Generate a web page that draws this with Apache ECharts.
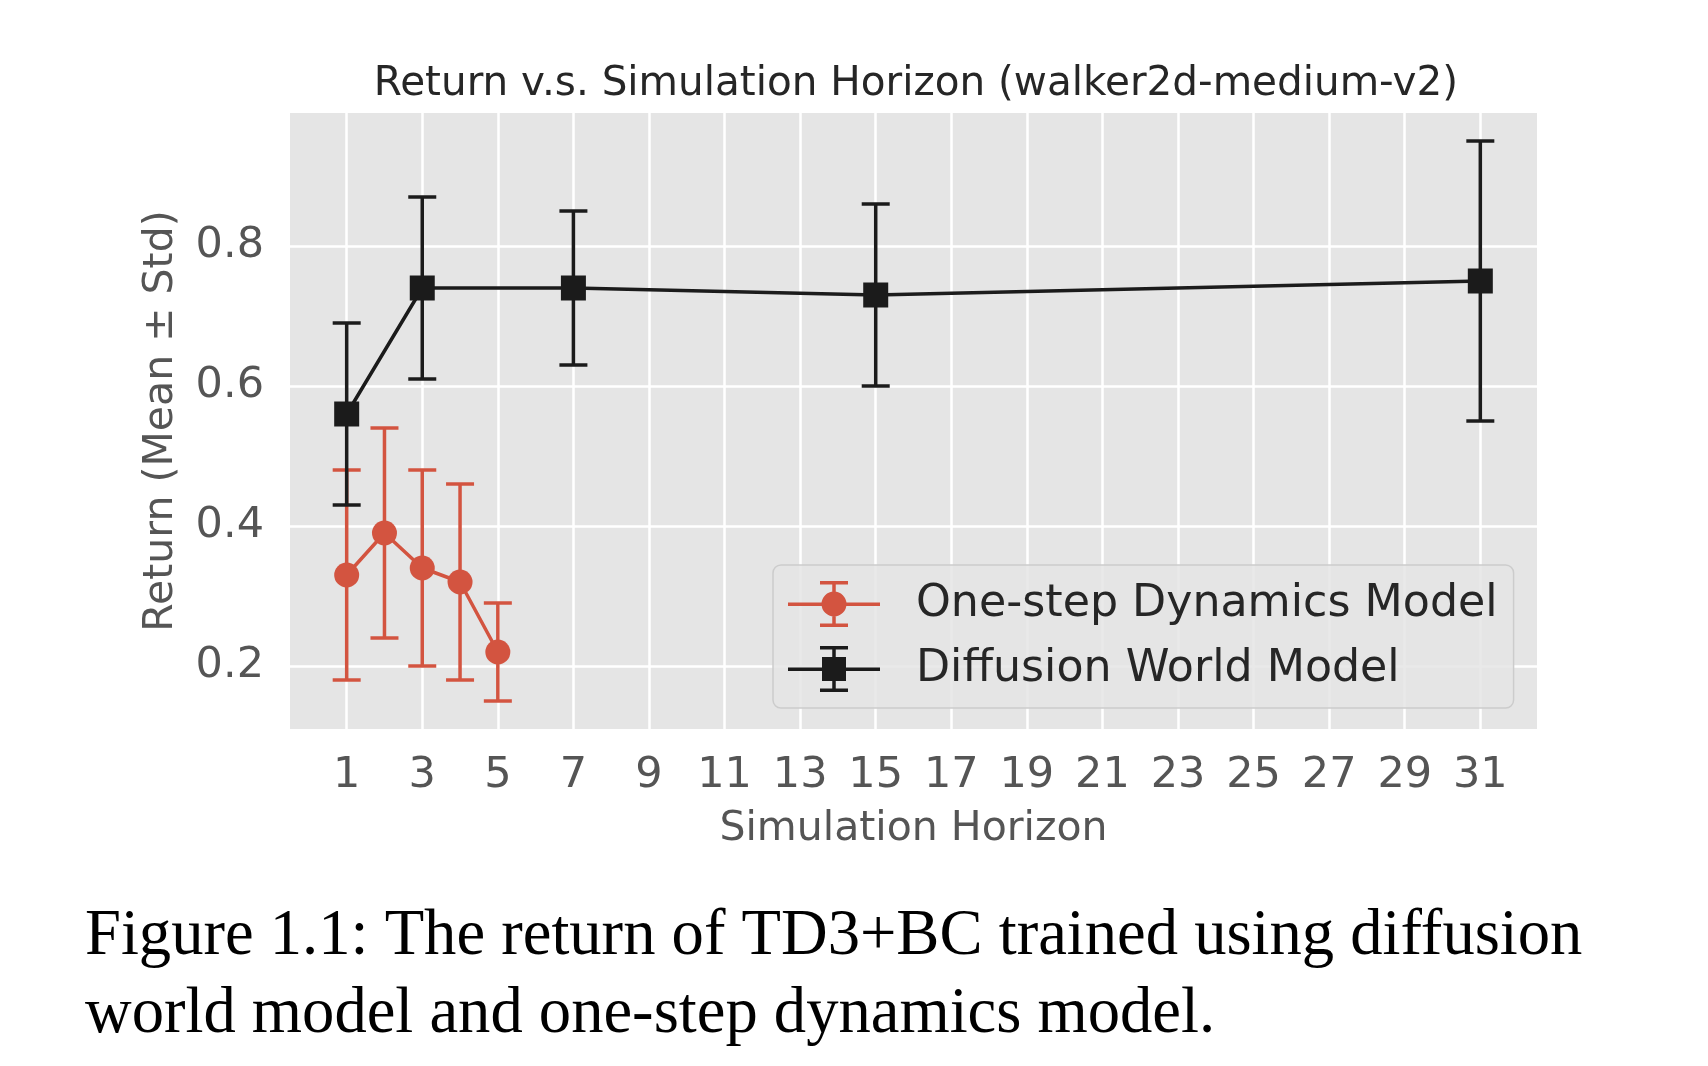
<!DOCTYPE html>
<html>
<head>
<meta charset="utf-8">
<script src="https://cdn.jsdelivr.net/npm/echarts@6/dist/echarts.min.js"></script>
<style>
  html, body { margin: 0; padding: 0; background: #ffffff; }
  #chart { width: 1708px; height: 1066px; }
</style>
</head>
<body>
<div id="chart"></div>
<script>
// ====== data ======
const oneStepHorizon = [1, 2, 3, 4, 5];
const oneStepMean = [0.33, 0.39, 0.34, 0.32, 0.22];
const oneStepStd = [0.15, 0.15, 0.14, 0.14, 0.07];

const diffusionHorizon = [1, 3, 7, 15, 31];
const diffusionMean = [0.56, 0.74, 0.74, 0.73, 0.75];
const diffusionStd = [0.13, 0.13, 0.11, 0.13, 0.20];

const xTickValues = [1, 3, 5, 7, 9, 11, 13, 15, 17, 19, 21, 23, 25, 27, 29, 31];
const yTickValues = [0.2, 0.4, 0.6, 0.8];

const seriesNames = ['One-step Dynamics Model', 'Diffusion World Model'];
const captionLines = [
    'Figure 1.1: The return of TD3+BC trained using diffusion',
    'world model and one-step dynamics model.'
];

// ====== style ======
const RED = '#D35440';
const BLACK = '#1b1b1b';
const SANS = 'DejaVu Sans';

// legend icons: line + error bar + marker, drawn in a 92x46 box
const barPart = 'M0 21.5 h92 v3.5 h-92 Z M44.25 0 h3.5 v46 h-3.5 Z M32 0 h28 v3.5 h-28 Z M32 42.5 h28 v3.5 h-28 Z ';
const iconCircle = 'path://' + barPart + 'M58.5 23 A12.5 12.5 0 1 1 33.5 23 A12.5 12.5 0 1 1 58.5 23 Z';
const iconSquare = 'path://' + barPart + 'M34 11 h24 v24 h-24 Z';

const toPoints = (xs, ys) => xs.map((x, i) => [x, ys[i]]);
const toBars = (xs, ys, sd) => xs.map((x, i) => [x, ys[i] - sd[i], ys[i] + sd[i]]);

// error bar with caps, through the axis scales
const errorBar = (color) => (params, api) => {
    const x = api.value(0);
    const top = api.coord([x, api.value(2)]);
    const bot = api.coord([x, api.value(1)]);
    const half = 14;
    const st = { stroke: color, lineWidth: 3.5 };
    return {
        type: 'group',
        children: [
            { type: 'line', shape: { x1: top[0], y1: top[1], x2: bot[0], y2: bot[1] }, style: st },
            { type: 'line', shape: { x1: top[0] - half, y1: top[1], x2: top[0] + half, y2: top[1] }, style: st },
            { type: 'line', shape: { x1: bot[0] - half, y1: bot[1], x2: bot[0] + half, y2: bot[1] }, style: st }
        ]
    };
};

const chart = echarts.init(document.getElementById('chart'));

const option = {
    animation: false,
    backgroundColor: '#ffffff',
    textStyle: { fontFamily: SANS },
    title: {
        text: 'Return v.s. Simulation Horizon (walker2d-medium-v2)',
        left: 911, top: 59, textAlign: 'center',
        textStyle: { fontFamily: SANS, fontSize: 40.5, fontWeight: 'normal', color: '#262626' }
    },
    grid: {
        left: 290, top: 113, right: 171, bottom: 337,
        show: true, backgroundColor: '#E5E5E5', borderWidth: 0,
        containLabel: false, outerBoundsMode: 'none'
    },
    legend: {
        orient: 'vertical',
        left: 773, top: 565,
        padding: [16, 16, 16, 15],
        itemGap: 19,
        itemWidth: 92, itemHeight: 46,
        backgroundColor: 'rgba(229,229,229,0.85)',
        borderColor: '#cccccc', borderWidth: 1.5, borderRadius: 8,
        selectedMode: false,
        textStyle: { fontFamily: SANS, fontSize: 44.3, color: '#262626', padding: [0, 0, 0, 31], lineHeight: 46 },
        data: [
            { name: seriesNames[0], icon: iconCircle, itemStyle: { color: RED } },
            { name: seriesNames[1], icon: iconSquare, itemStyle: { color: BLACK } }
        ]
    },
    xAxis: {
        type: 'value', min: -0.5, max: 32.5,
        name: 'Simulation Horizon', nameLocation: 'middle', nameGap: 80,
        nameTextStyle: { fontFamily: SANS, fontSize: 41, color: '#555555' },
        axisLine: { show: false },
        axisTick: { show: false, customValues: xTickValues },
        axisLabel: { customValues: xTickValues, margin: 25, fontFamily: SANS, fontSize: 43, color: '#555555' },
        splitLine: { show: true, lineStyle: { color: '#ffffff', width: 2.5 } }
    },
    yAxis: {
        type: 'value', min: 0.11, max: 0.99,
        name: 'Return (Mean ± Std)', nameLocation: 'middle', nameGap: 108, nameRotate: 90,
        nameTextStyle: { fontFamily: SANS, fontSize: 41, color: '#555555' },
        axisLine: { show: false },
        axisTick: { show: false, customValues: yTickValues },
        axisLabel: { customValues: yTickValues, margin: 26, fontFamily: SANS, fontSize: 43, color: '#555555',
            formatter: (v) => v.toFixed(1) },
        splitLine: { show: true, lineStyle: { color: '#ffffff', width: 2.5 } }
    },
    series: [
        {
            name: seriesNames[0], type: 'custom', z: 2,
            renderItem: errorBar(RED),
            encode: { x: 0, y: [1, 2] },
            itemStyle: { color: RED },
            data: toBars(oneStepHorizon, oneStepMean, oneStepStd)
        },
        {
            name: seriesNames[0], type: 'line', z: 3,
            symbol: 'circle', symbolSize: 25,
            lineStyle: { color: RED, width: 3.5 },
            itemStyle: { color: RED },
            emphasis: { disabled: true },
            data: toPoints(oneStepHorizon, oneStepMean)
        },
        {
            name: seriesNames[1], type: 'custom', z: 4,
            renderItem: errorBar(BLACK),
            encode: { x: 0, y: [1, 2] },
            itemStyle: { color: BLACK },
            data: toBars(diffusionHorizon, diffusionMean, diffusionStd)
        },
        {
            name: seriesNames[1], type: 'line', z: 5,
            symbol: 'rect', symbolSize: 25,
            lineStyle: { color: BLACK, width: 3.5 },
            itemStyle: { color: BLACK },
            emphasis: { disabled: true },
            data: toPoints(diffusionHorizon, diffusionMean)
        }
    ],
    graphic: captionLines.map((line, i) => ({
        type: 'text',
        left: 85, top: 905 + i * 78,
        style: { text: line, fontFamily: 'Liberation Serif', fontSize: 64.6, fill: '#000000' }
    }))
};

chart.setOption(option);
window.addEventListener('resize', () => chart.resize());
</script>
</body>
</html>
